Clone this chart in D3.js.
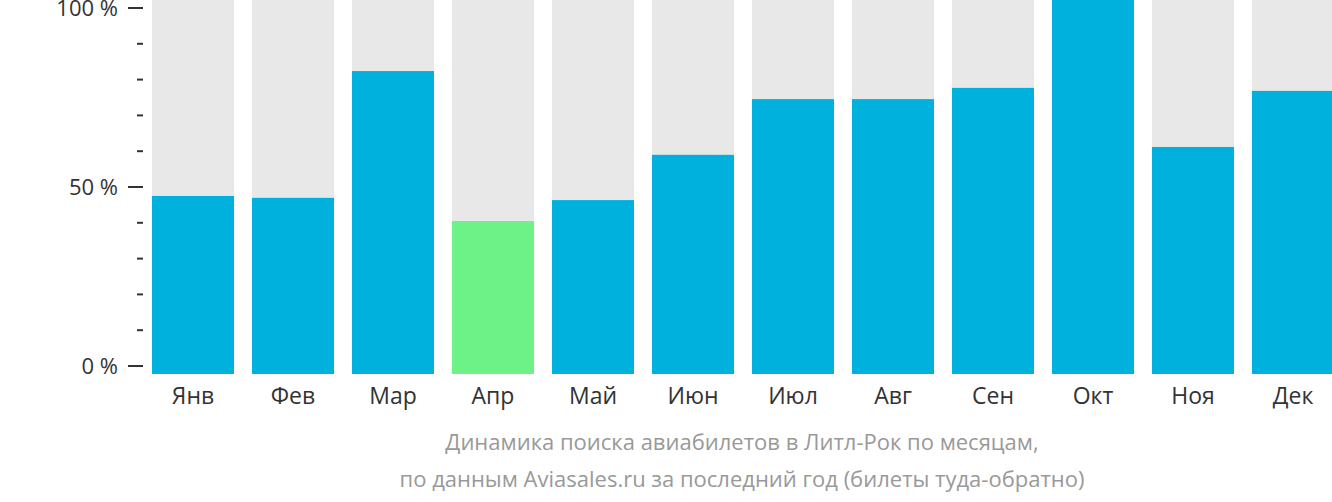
<!DOCTYPE html><html><head><meta charset="utf-8"><script src="https://cdn.jsdelivr.net/npm/d3@7"></script>
<style>body{margin:0;background:#fff}text{font-family:"Open Sans",sans-serif}</style></head><body>
<svg id="c" width="1332" height="502"></svg>
<script>
const months=["Янв","Фев","Мар","Апр","Май","Июн","Июл","Авг","Сен","Окт","Ноя","Дек"];
const values=[47.6,47.1,81,40.9,46.5,58.6,73.5,73.5,76.5,100,60.7,75.7];
const highlight="Апр";
const yTicks=[0,50,100];
const caption=["Динамика поиска авиабилетов в Литл-Рок по месяцам,","по данным Aviasales.ru за последний год (билеты туда-обратно)"];
const svg=d3.select("#c");
const x=d3.scaleBand().domain(months).range([143,1343]).paddingInner(0.18).paddingOuter(0.09);
const yb=d3.scaleLinear().domain([0,100]).range([374,0]);
const ya=d3.scaleLinear().domain([0,100]).range([366,8]);
svg.selectAll(".bg").data(months).enter().append("rect").attr("x",d=>x(d)).attr("width",x.bandwidth()).attr("y",yb(100)).attr("height",yb(0)-yb(100)).attr("fill","#e8e8e8");
svg.selectAll(".b").data(values).enter().append("rect").attr("x",(d,i)=>x(months[i])).attr("width",x.bandwidth()).attr("y",d=>yb(d)).attr("height",d=>yb(0)-yb(d)).attr("fill",(d,i)=>months[i]===highlight?"#6cf286":"#00b1dd");
const g=svg.append("g");
d3.range(0,101,10).forEach(v=>{const major=v%50===0;g.append("line").attr("x1",major?128:137).attr("x2",143).attr("y1",ya(v)).attr("y2",ya(v)).attr("stroke","#333").attr("stroke-width",2);});
yTicks.forEach(v=>g.append("text").attr("x",118).attr("y",ya(v)).attr("dy","0.35em").attr("text-anchor","end").attr("font-size",22).attr("fill","#333").text(v+" %"));
svg.selectAll(".m").data(months).enter().append("text").attr("x",d=>x(d)+x.bandwidth()/2).attr("y",404).attr("text-anchor","middle").attr("font-size",23).attr("fill","#333").text(d=>d);
caption.forEach((t,i)=>svg.append("text").attr("x",742).attr("y",450+i*37).attr("text-anchor","middle").attr("font-size",22).attr("fill","#999").text(t));
</script></body></html>
